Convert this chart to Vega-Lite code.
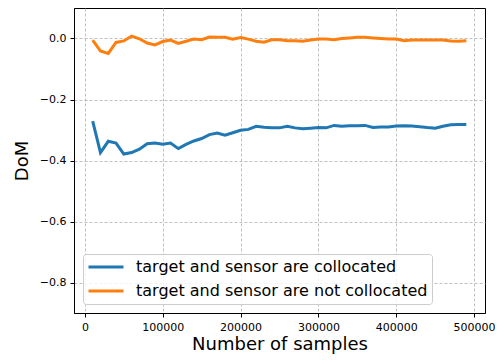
{
  "$schema": "https://vega.github.io/schema/vega-lite/v6.json",
  "width": 411,
  "height": 305,
  "autosize": {"type": "none"},
  "padding": {"left": 74, "top": 8, "right": 13, "bottom": 47},
  "background": "white",
  "config": {
    "font": "DejaVu Sans",
    "view": {"stroke": "black", "strokeWidth": 1},
    "axis": {
      "domainColor": "black",
      "tickColor": "black",
      "labelColor": "black",
      "titleColor": "black",
      "labelFontSize": 11,
      "titleFontSize": 18,
      "titleFontWeight": "normal",
      "gridColor": "#b0b0b0",
      "gridDash": [3, 2],
      "gridWidth": 0.8,
      "tickSize": 4
    }
  },
  "data": {
    "values": [
      {"n": 10000, "dom": -0.271, "s": "target and sensor are collocated"},
      {"n": 20000, "dom": -0.374, "s": "target and sensor are collocated"},
      {"n": 30000, "dom": -0.337, "s": "target and sensor are collocated"},
      {"n": 40000, "dom": -0.343, "s": "target and sensor are collocated"},
      {"n": 50000, "dom": -0.379, "s": "target and sensor are collocated"},
      {"n": 60000, "dom": -0.374, "s": "target and sensor are collocated"},
      {"n": 70000, "dom": -0.363, "s": "target and sensor are collocated"},
      {"n": 80000, "dom": -0.345, "s": "target and sensor are collocated"},
      {"n": 90000, "dom": -0.343, "s": "target and sensor are collocated"},
      {"n": 100000, "dom": -0.347, "s": "target and sensor are collocated"},
      {"n": 110000, "dom": -0.343, "s": "target and sensor are collocated"},
      {"n": 120000, "dom": -0.361, "s": "target and sensor are collocated"},
      {"n": 130000, "dom": -0.347, "s": "target and sensor are collocated"},
      {"n": 140000, "dom": -0.336, "s": "target and sensor are collocated"},
      {"n": 150000, "dom": -0.328, "s": "target and sensor are collocated"},
      {"n": 160000, "dom": -0.315, "s": "target and sensor are collocated"},
      {"n": 170000, "dom": -0.310, "s": "target and sensor are collocated"},
      {"n": 180000, "dom": -0.317, "s": "target and sensor are collocated"},
      {"n": 190000, "dom": -0.309, "s": "target and sensor are collocated"},
      {"n": 200000, "dom": -0.301, "s": "target and sensor are collocated"},
      {"n": 210000, "dom": -0.298, "s": "target and sensor are collocated"},
      {"n": 220000, "dom": -0.288, "s": "target and sensor are collocated"},
      {"n": 230000, "dom": -0.291, "s": "target and sensor are collocated"},
      {"n": 240000, "dom": -0.293, "s": "target and sensor are collocated"},
      {"n": 250000, "dom": -0.293, "s": "target and sensor are collocated"},
      {"n": 260000, "dom": -0.288, "s": "target and sensor are collocated"},
      {"n": 270000, "dom": -0.293, "s": "target and sensor are collocated"},
      {"n": 280000, "dom": -0.296, "s": "target and sensor are collocated"},
      {"n": 290000, "dom": -0.294, "s": "target and sensor are collocated"},
      {"n": 300000, "dom": -0.292, "s": "target and sensor are collocated"},
      {"n": 310000, "dom": -0.293, "s": "target and sensor are collocated"},
      {"n": 320000, "dom": -0.285, "s": "target and sensor are collocated"},
      {"n": 330000, "dom": -0.288, "s": "target and sensor are collocated"},
      {"n": 340000, "dom": -0.286, "s": "target and sensor are collocated"},
      {"n": 350000, "dom": -0.286, "s": "target and sensor are collocated"},
      {"n": 360000, "dom": -0.285, "s": "target and sensor are collocated"},
      {"n": 370000, "dom": -0.292, "s": "target and sensor are collocated"},
      {"n": 380000, "dom": -0.290, "s": "target and sensor are collocated"},
      {"n": 390000, "dom": -0.290, "s": "target and sensor are collocated"},
      {"n": 400000, "dom": -0.287, "s": "target and sensor are collocated"},
      {"n": 410000, "dom": -0.286, "s": "target and sensor are collocated"},
      {"n": 420000, "dom": -0.287, "s": "target and sensor are collocated"},
      {"n": 430000, "dom": -0.289, "s": "target and sensor are collocated"},
      {"n": 440000, "dom": -0.292, "s": "target and sensor are collocated"},
      {"n": 450000, "dom": -0.294, "s": "target and sensor are collocated"},
      {"n": 460000, "dom": -0.288, "s": "target and sensor are collocated"},
      {"n": 470000, "dom": -0.283, "s": "target and sensor are collocated"},
      {"n": 480000, "dom": -0.282, "s": "target and sensor are collocated"},
      {"n": 490000, "dom": -0.282, "s": "target and sensor are collocated"},
      {"n": 10000, "dom": -0.005, "s": "target and sensor are not collocated"},
      {"n": 20000, "dom": -0.041, "s": "target and sensor are not collocated"},
      {"n": 30000, "dom": -0.049, "s": "target and sensor are not collocated"},
      {"n": 40000, "dom": -0.013, "s": "target and sensor are not collocated"},
      {"n": 50000, "dom": -0.008, "s": "target and sensor are not collocated"},
      {"n": 60000, "dom": 0.008, "s": "target and sensor are not collocated"},
      {"n": 70000, "dom": -0.001, "s": "target and sensor are not collocated"},
      {"n": 80000, "dom": -0.015, "s": "target and sensor are not collocated"},
      {"n": 90000, "dom": -0.021, "s": "target and sensor are not collocated"},
      {"n": 100000, "dom": -0.010, "s": "target and sensor are not collocated"},
      {"n": 110000, "dom": -0.005, "s": "target and sensor are not collocated"},
      {"n": 120000, "dom": -0.016, "s": "target and sensor are not collocated"},
      {"n": 130000, "dom": -0.009, "s": "target and sensor are not collocated"},
      {"n": 140000, "dom": -0.002, "s": "target and sensor are not collocated"},
      {"n": 150000, "dom": -0.004, "s": "target and sensor are not collocated"},
      {"n": 160000, "dom": 0.005, "s": "target and sensor are not collocated"},
      {"n": 170000, "dom": 0.004, "s": "target and sensor are not collocated"},
      {"n": 180000, "dom": 0.004, "s": "target and sensor are not collocated"},
      {"n": 190000, "dom": -0.002, "s": "target and sensor are not collocated"},
      {"n": 200000, "dom": 0.003, "s": "target and sensor are not collocated"},
      {"n": 210000, "dom": -0.002, "s": "target and sensor are not collocated"},
      {"n": 220000, "dom": -0.009, "s": "target and sensor are not collocated"},
      {"n": 230000, "dom": -0.012, "s": "target and sensor are not collocated"},
      {"n": 240000, "dom": -0.004, "s": "target and sensor are not collocated"},
      {"n": 250000, "dom": -0.004, "s": "target and sensor are not collocated"},
      {"n": 260000, "dom": -0.007, "s": "target and sensor are not collocated"},
      {"n": 270000, "dom": -0.007, "s": "target and sensor are not collocated"},
      {"n": 280000, "dom": -0.009, "s": "target and sensor are not collocated"},
      {"n": 290000, "dom": -0.005, "s": "target and sensor are not collocated"},
      {"n": 300000, "dom": -0.002, "s": "target and sensor are not collocated"},
      {"n": 310000, "dom": -0.002, "s": "target and sensor are not collocated"},
      {"n": 320000, "dom": -0.004, "s": "target and sensor are not collocated"},
      {"n": 330000, "dom": 0.000, "s": "target and sensor are not collocated"},
      {"n": 340000, "dom": 0.002, "s": "target and sensor are not collocated"},
      {"n": 350000, "dom": 0.004, "s": "target and sensor are not collocated"},
      {"n": 360000, "dom": 0.004, "s": "target and sensor are not collocated"},
      {"n": 370000, "dom": 0.002, "s": "target and sensor are not collocated"},
      {"n": 380000, "dom": 0.000, "s": "target and sensor are not collocated"},
      {"n": 390000, "dom": -0.002, "s": "target and sensor are not collocated"},
      {"n": 400000, "dom": -0.002, "s": "target and sensor are not collocated"},
      {"n": 410000, "dom": -0.007, "s": "target and sensor are not collocated"},
      {"n": 420000, "dom": -0.005, "s": "target and sensor are not collocated"},
      {"n": 430000, "dom": -0.005, "s": "target and sensor are not collocated"},
      {"n": 440000, "dom": -0.005, "s": "target and sensor are not collocated"},
      {"n": 450000, "dom": -0.005, "s": "target and sensor are not collocated"},
      {"n": 460000, "dom": -0.005, "s": "target and sensor are not collocated"},
      {"n": 470000, "dom": -0.008, "s": "target and sensor are not collocated"},
      {"n": 480000, "dom": -0.009, "s": "target and sensor are not collocated"},
      {"n": 490000, "dom": -0.007, "s": "target and sensor are not collocated"}
    ]
  },
  "mark": {"type": "line", "strokeWidth": 3, "clip": true},
  "encoding": {
    "x": {
      "field": "n",
      "type": "quantitative",
      "scale": {"domain": [-14000, 514000], "nice": false, "zero": false},
      "axis": {
        "title": "Number of samples",
        "values": [0, 100000, 200000, 300000, 400000, 500000],
        "format": "d",
        "labelPadding": 4,
        "titlePadding": 3
      }
    },
    "y": {
      "field": "dom",
      "type": "quantitative",
      "scale": {"domain": [-0.9, 0.1], "nice": false, "zero": false},
      "axis": {
        "title": "DoM",
        "values": [0, -0.2, -0.4, -0.6, -0.8],
        "format": ".1f",
        "labelExpr": "replace(datum.label, '-', '\u2212')",
        "labelPadding": 4,
        "titlePadding": 8
      }
    },
    "color": {
      "field": "s",
      "type": "nominal",
      "scale": {
        "domain": ["target and sensor are collocated", "target and sensor are not collocated"],
        "range": ["#1f77b4", "#ff7f0e"]
      },
      "legend": {
        "title": null,
        "orient": "none",
        "legendX": 9,
        "legendY": 246,
        "symbolType": "stroke",
        "symbolSize": 1225,
        "symbolStrokeWidth": 3,
        "clipHeight": 18,
        "labelFontSize": 16,
        "labelLimit": 500,
        "labelColor": "black",
        "labelOffset": 11,
        "rowPadding": 6,
        "fillColor": "rgba(255,255,255,0.8)",
        "strokeColor": "#cccccc",
        "cornerRadius": 3,
        "padding": 4
      }
    }
  }
}
